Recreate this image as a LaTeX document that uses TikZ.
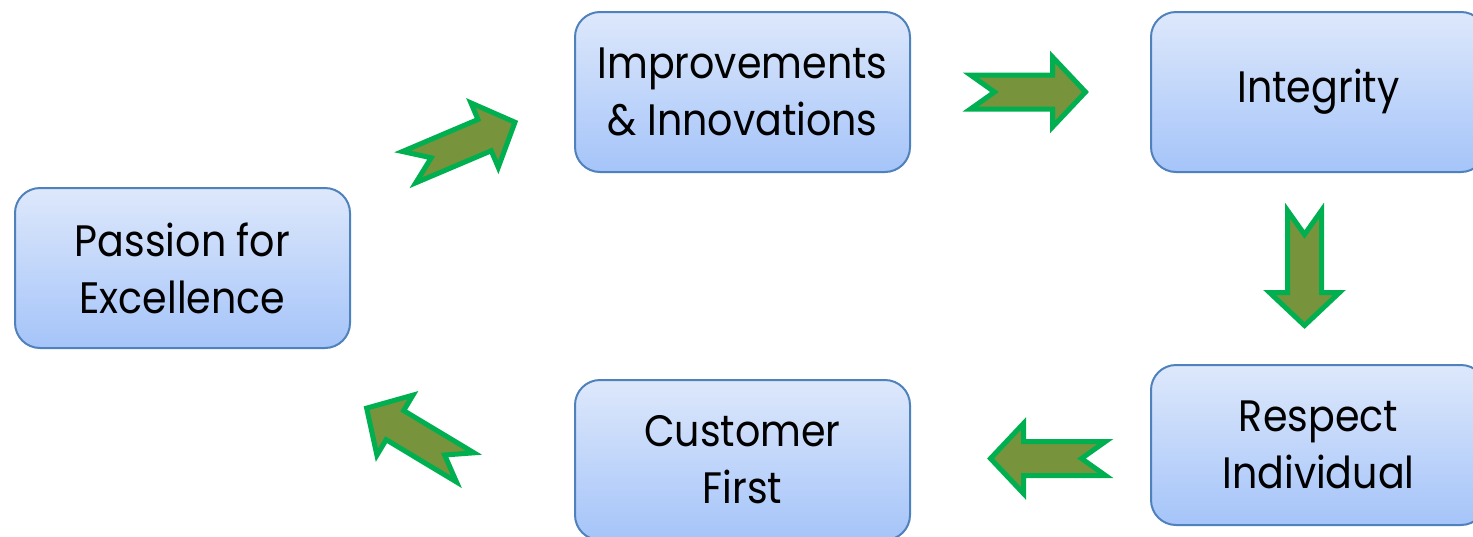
\documentclass[tikz,border=0pt]{standalone}
\usepackage{fontspec}
\setmainfont[FakeStretch=0.9]{Poppins}
\usetikzlibrary{calc}
\definecolor{boxedge}{RGB}{79,129,189}
\definecolor{boxtop}{RGB}{221,232,251}
\definecolor{boxbottom}{RGB}{165,196,249}
\definecolor{arrowfill}{RGB}{119,147,60}
\definecolor{arrowedge}{RGB}{0,176,80}
\tikzstyle{value}=[draw=boxedge, line width=2pt, rounded corners=25pt, top color=boxtop, bottom color=boxbottom, minimum width=335pt, minimum height=160pt, align=center, font=\fontsize{44}{57}\selectfont]
\tikzset{flowarrow/.pic={
    \draw[draw=arrowedge, fill=arrowfill, line width=5pt, line join=miter]
        (-58,-17) -- (24,-17) -- (24,-35) -- (57,0) -- (24,35) -- (24,17) -- (-58,17) -- (-34,0) -- cycle;
}}

\begin{document}
\begin{tikzpicture}[x=1pt, y=-1pt]
    \clip (0,0) rectangle (1473,536);
% Values
    \node[value] (passion) at (182.5,268) {Passion for\\Excellence};
    \node[value] (improve) at (742.5,92) {Improvements\\\& Innovations};
    \node[value] (integrity) at (1318.5,92) {Integrity};
    \node[value] (respect) at (1318.5,445) {Respect\\Individual};
    \node[value] (customer) at (742.5,460) {Customer\\First};
% Arrows
    \pic[rotate=23] at ($(passion.north east)!.5!(improve.west)+(0,5)$) {flowarrow};
    \pic at ($(improve.east)!.5!(integrity.west)+(-2,0)$) {flowarrow};
    \pic[rotate=-90] at ($(integrity.south)!.5!(respect.north)+(-14,0)$) {flowarrow};
    \pic[rotate=180] at ($(respect.west)!.5!(customer.east)+(17,6)$) {flowarrow};
    \pic[rotate=149] at ($(customer.west)!.5!(passion.south east)+(-47,33)$) {flowarrow};
\end{tikzpicture}
\end{document}
